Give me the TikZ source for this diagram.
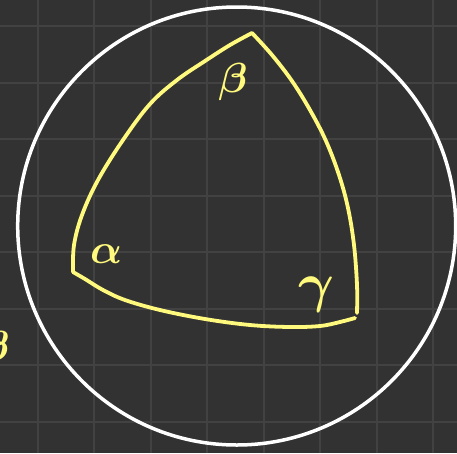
\documentclass[tikz,border=0pt]{standalone}
\definecolor{bgc}{RGB}{50,50,50}
\definecolor{gridc}{RGB}{66,66,66}
\definecolor{yel}{RGB}{255,250,125}
\tikzset{
  gridline/.style={draw=gridc, line width=2pt},
  ring/.style={draw=white, line width=3.5pt},
  edge/.style={draw=yel, line width=3.8pt, line cap=round, line join=round},
  lab/.style={text=yel, inner sep=0pt, font=\boldmath}
}
\begin{document}
\begin{tikzpicture}[x=1pt, y=-1pt]
\useasboundingbox (0,0) rectangle (457,453);
\fill[bgc] (0,0) rectangle (457,453);
% grid
\foreach \k in {0,...,7} {
  \draw[gridline] ({37.7+56.5*\k},0) -- ({37.7+56.5*\k},453);
  \draw[gridline] (0,{26+56.5*\k}) -- (457,{26+56.5*\k});
}
% circle
\coordinate (O) at (236.7,226);
\draw[ring] (O) circle (219);
% triangle vertices
\coordinate (A) at (73,272);
\coordinate (B) at (252,33);
\coordinate (C) at (357,313);
\coordinate (C2) at (355,318);
% edges
\draw[edge] plot[smooth, tension=0.6] coordinates {(73,272) (74,245) (82,215) (98,180) (123,140) (150,104) (177,80) (205,61) (230,45) (252,33)};
\draw[edge] plot[smooth, tension=0.6] coordinates {(252,33) (272,55) (292,81) (310,110) (326,141) (339,175) (348,208) (354,245) (357,285) (357,313)};
\draw[edge] plot[smooth, tension=0.6] coordinates {(73,272) (85,279) (103,290) (125,300) (160,310) (205,319) (250,325) (290,327) (320,326) (340,322) (355,318)};
% labels
\node[lab, scale=4.2] (lb) at (233,82) {$\beta$};
\node[lab, scale=4.2] (la) at (106,254) {$\alpha$};
\node[lab, scale=5.5] (lg) at (316,295) {$\gamma$};
\node[lab, scale=4.2] (lb2) at (-5,350) {$\beta$};
\end{tikzpicture}
\end{document}
